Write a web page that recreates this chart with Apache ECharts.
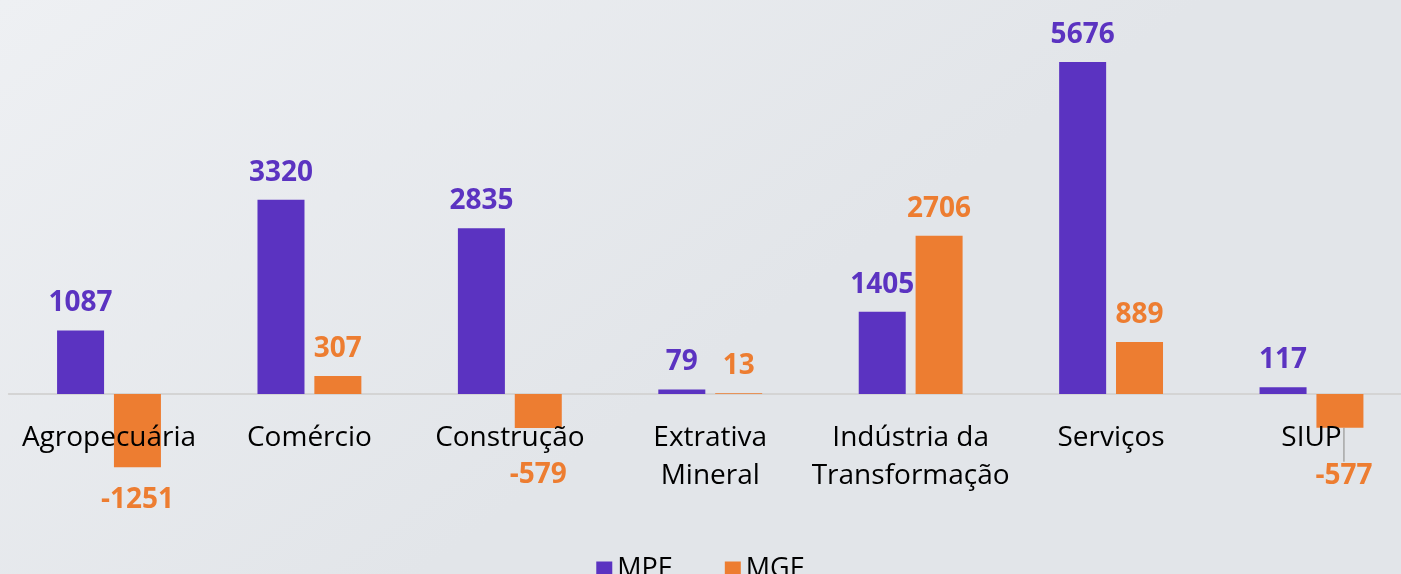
<!DOCTYPE html>
<html><head><meta charset="utf-8">
<script src="https://cdn.jsdelivr.net/npm/echarts@6/dist/echarts.min.js"></script>
<style>html,body{margin:0;padding:0;}#c{width:1401px;height:574px;}</style>
</head><body><div id="c"></div>
<script>
const categories = ['Agropecuária','Comércio','Construção','Extrativa\nMineral','Indústria da\nTransformação','Serviços','SIUP'];
const seriesNames = ['MPE','MGE'];
const mpe = [1087, 3320, 2835, 79, 1405, 5676, 117];
const mge = [-1251, 307, -579, 13, 2706, 889, -577];

const purple = '#5b33c1';
const orange = '#ed7d31';
const font = 'Open Sans';

// label nudges for negative MGE labels (Excel moved some away from axis text)
const mgeLabelShift = { 0: [0, 6], 2: [0, 20], 6: [4, 21] };

function toItems(arr, withLeader) {
  return arr.map((v, i) => {
    const item = { value: v };
    if (v < 0) item.label = { position: 'bottom' };
    if (withLeader && i === withLeader) item.labelLine = { show: true };
    return item;
  });
}

const chart = echarts.init(document.getElementById('c'));
chart.setOption({
  backgroundColor: {
    type: 'linear', x: 0, y: 0, x2: 0.3, y2: 1,
    colorStops: [{offset: 0, color: '#eef0f3'}, {offset: 1, color: '#e2e5e9'}]
  },
  animation: false,
  grid: { left: 8.8, right: -10.7, top: 43.1, bottom: 63, outerBoundsMode: 'none', containLabel: false },
  legend: {
    data: seriesNames, left: 'center', top: 551,
    itemWidth: 16, itemHeight: 16, itemGap: 52, icon: 'rect',
    textStyle: { fontFamily: font, fontSize: 27, color: '#000' }
  },
  xAxis: {
    type: 'category', data: categories,
    axisLine: { onZero: true, lineStyle: { color: '#d4d4d4', width: 2 } },
    axisTick: { show: false },
    axisLabel: { fontFamily: font, fontSize: 28, color: '#000', margin: -92, lineHeight: 38, interval: 0 },
    z: 1
  },
  yAxis: {
    type: 'value', min: -2000, max: 6000, show: false,
    splitLine: { show: false }
  },
  series: [
    {
      name: 'MPE', type: 'bar', data: toItems(mpe), barWidth: 47, barGap: '21%',
      itemStyle: { color: purple },
      label: { show: true, position: 'top', distance: 13, color: purple,
        fontFamily: font, fontWeight: 'bold', fontSize: 28 },
      z: 3
    },
    {
      name: 'MGE', type: 'bar', data: toItems(mge, 6), barWidth: 47, barGap: '21%',
      itemStyle: { color: orange },
      label: { show: true, position: 'top', distance: 13, color: orange,
        fontFamily: font, fontWeight: 'bold', fontSize: 28 },
      labelLine: { show: false, lineStyle: { color: '#a6a6a6', width: 1.5 } },
      labelLayout: function (p) {
        const s = mgeLabelShift[p.dataIndex];
        return s ? { dx: s[0], dy: s[1] } : {};
      },
      z: 1
    }
  ]
});
</script></body></html>
